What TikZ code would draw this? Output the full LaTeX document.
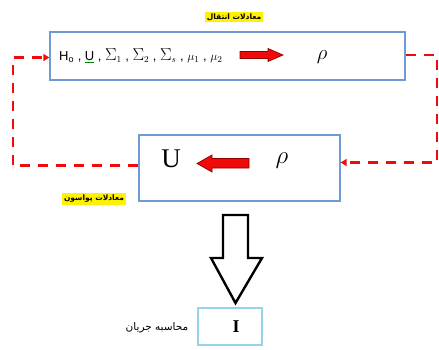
\documentclass[tikz,border=0pt]{standalone}
\usepackage{fontspec}
\setmainfont{Liberation Serif}
\newfontfamily\arsans{Liberation Sans}
\newfontfamily\arabicfont[Script=Arabic]{DejaVu Sans}
\TeXXeTstate=1
\usetikzlibrary{arrows.meta}
\definecolor{boxblue}{RGB}{110,155,215}
\definecolor{lightblue}{RGB}{150,212,235}
\definecolor{arrred}{RGB}{240,10,10}
\tikzset{
  mainbox/.style={draw=boxblue,line width=1.3pt,rectangle,inner sep=0pt},
  ibox/.style={draw=lightblue,line width=2.6pt,rectangle,inner sep=0pt},
  hl/.style={fill=yellow,inner sep=1.8pt,font=\arabicfont\bfseries\fontsize{7.5}{8.5}\selectfont},
  redarrow/.style={fill=arrred,draw=red!55!black,line width=0.7pt,line join=miter},
  feedback/.style={draw=arrred,line width=2.6pt,dash pattern=on 10pt off 8pt,-{Triangle[length=6pt,width=7pt]}},
}
\newcommand{\bigsig}{\mbox{\fontsize{16}{16}\selectfont$\Sigma$}}
\begin{document}
\begin{tikzpicture}[x=1pt,y=-1pt]
\useasboundingbox (0,0) rectangle (439,349);
% boxes
\node[mainbox,minimum width=355pt,minimum height=48pt] (top) at (227.5,56) {};
\node[mainbox,minimum width=201pt,minimum height=66pt] (bot) at (239.5,168) {};
\node[ibox,minimum width=64pt,minimum height=37pt] (ibx) at (230,326.5) {};
% labels
\node[hl] (lt) at (234,17) {\beginR معادلات انتقال\endR};
\node[hl] (lp) at (94,199) {\beginR معادلات پواسون\endR};
\node[font=\arabicfont\fontsize{10.5}{11}\selectfont] (lc) at (157,328) {\beginR محاسبه جریان\endR};
% top box content
\node[anchor=west,font=\arsans\fontsize{13}{14}\selectfont,inner sep=0pt] (eqs) at (59,56)
  {H\textsubscript{o} , {\color{green!55!black}\underline{\color{black}U}} , \bigsig$_1$ , \bigsig$_2$ , \bigsig$_s$ , $\mu_1$ , $\mu_2$};
\draw[redarrow] (240,51.5) -- (268,51.5) -- (268,48.5) -- (283,55) -- (268,61.5) -- (268,58.5) -- (240,58.5) -- cycle;
\node[font=\fontsize{21}{22}\selectfont] (rho1) at (322,57) {$\rho$};
% bottom box content
\node[font=\fontsize{27}{28}\selectfont] (U) at (171,159) {U};
\draw[redarrow] (249,158.5) -- (212,158.5) -- (212,155) -- (197,163.5) -- (212,172) -- (212,168) -- (249,168) -- cycle;
\node[font=\fontsize{30}{32}\selectfont] (rho2) at (282,161) {$\rho$};
% I box content
\node[font=\bfseries\fontsize{18}{20}\selectfont] (I) at (236,327) {I};
% feedback connectors
\coordinate (rc1) at (437,55);
\coordinate (rc2) at (437,162.5);
\draw[feedback] (top.east |- rc1) -- (rc1) -- (rc2) -- (bot.east |- rc2);
\coordinate (lc1) at (13,165.5);
\coordinate (lc2) at (13,57.5);
\draw[feedback] (bot.west |- lc1) -- (lc1) -- (lc2) -- (top.west |- lc2);
% big hollow arrow
\draw[line width=2.4pt,line join=miter] (223,215) -- (248,215) -- (248,258) -- (262,258) -- (235.5,303) -- (211,258) -- (223,258) -- cycle;
\end{tikzpicture}
\end{document}
